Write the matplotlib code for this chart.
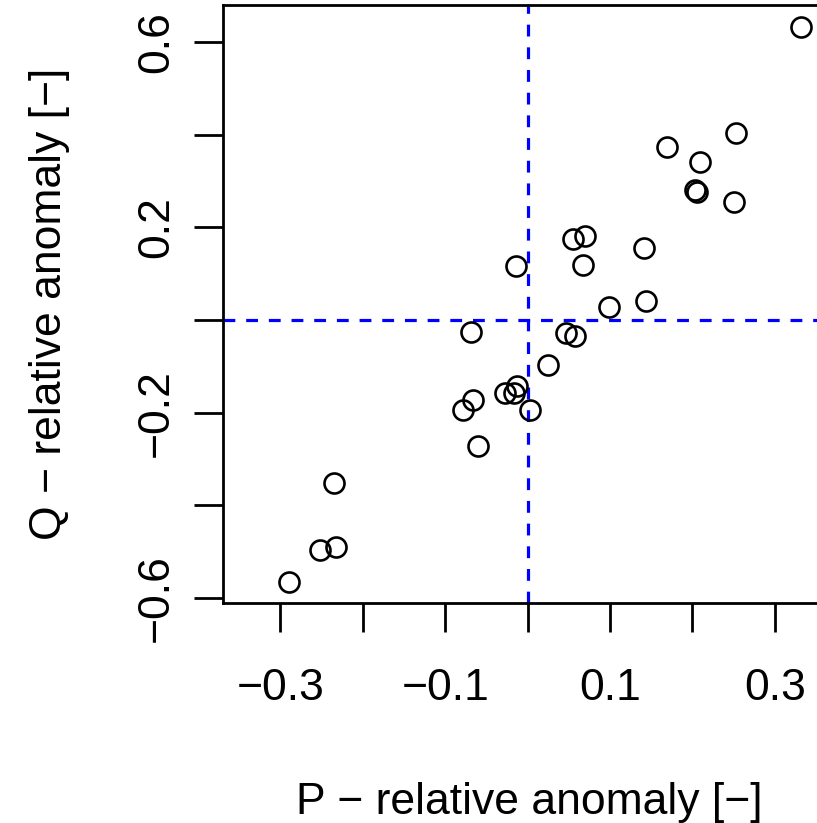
import matplotlib
matplotlib.use("Agg")
import matplotlib.pyplot as plt

# relative anomalies
p_anom = [0.332, 0.253, 0.169, 0.209, 0.203, 0.206, 0.250, 0.055, 0.070, 0.141,
          -0.014, 0.067, 0.099, 0.144, -0.069, 0.047, 0.058, 0.025, -0.066, -0.078,
          -0.027, -0.013, -0.017, 0.003, -0.060, -0.235, -0.252, -0.233, -0.290]
q_anom = [0.632, 0.403, 0.373, 0.342, 0.280, 0.276, 0.255, 0.176, 0.182, 0.156,
          0.117, 0.119, 0.028, 0.041, -0.025, -0.027, -0.035, -0.097, -0.173, -0.194,
          -0.157, -0.142, -0.158, -0.194, -0.272, -0.352, -0.496, -0.490, -0.565]

x_ticks = [-0.3, -0.2, -0.1, 0.0, 0.1, 0.2, 0.3]
x_ticklabels = ["\u22120.3", "", "\u22120.1", "", "0.1", "", "0.3"]
y_ticks = [-0.6, -0.4, -0.2, 0.0, 0.2, 0.4, 0.6]
y_ticklabels = ["\u22120.6", "", "\u22120.2", "", "0.2", "", "0.6"]

plt.rcParams['font.family'] = ['Liberation Sans', 'DejaVu Sans']

fig = plt.figure(figsize=(8.17, 8.23), dpi=100)
ax = fig.add_axes([0.2727, 0.2673, 0.7463, 0.7266])

ax.axvline(0, color='blue', lw=2.3, ls=(0, (3.7, 3.4)), zorder=1)
ax.axhline(0, color='blue', lw=2.3, ls=(0, (3.7, 3.4)), zorder=1)
ax.plot(p_anom, q_anom, 'o', mfc='none', mec='black', ms=14.4, mew=1.9, zorder=2)

ax.set_xlim(-0.37, 0.37)
ax.set_ylim(-0.6105, 0.68)

ax.set_xticks(x_ticks)
ax.set_xticklabels(x_ticklabels)
ax.set_yticks(y_ticks)
ax.set_yticklabels(y_ticklabels, rotation=90, va='center')
ax.tick_params(axis='both', length=21, width=2, labelsize=32)
ax.tick_params(axis='x', pad=26)
ax.tick_params(axis='y', pad=12)

for s in ax.spines.values():
    s.set_linewidth(2)

ax.set_xlabel("P \u2212 relative anomaly [\u2212]", fontsize=32)
ax.set_ylabel("Q \u2212 relative anomaly [\u2212]", fontsize=32)
ax.xaxis.set_label_coords(0.502, -0.30)
ax.yaxis.set_label_coords(-0.25, 0.5)

fig.savefig("out.png", dpi=100)
